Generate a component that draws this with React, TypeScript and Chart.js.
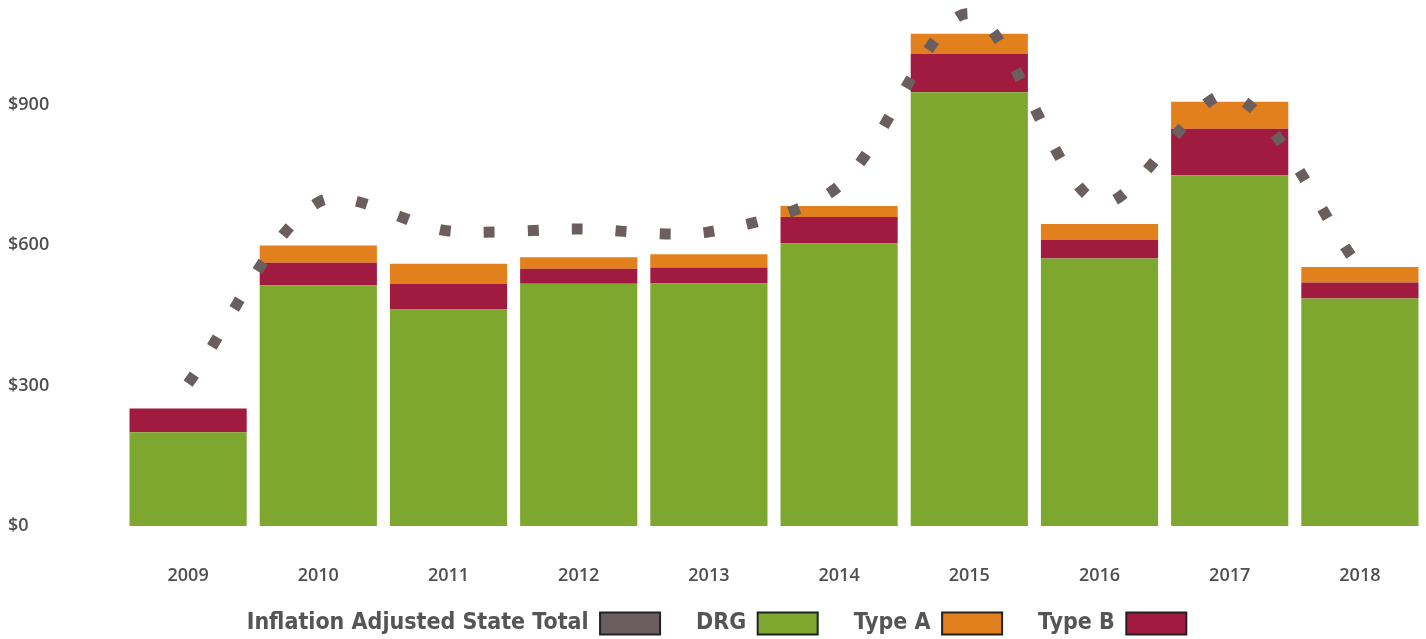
import React, { useEffect, useRef } from 'react';
import { Chart, registerables } from 'chart.js';
Chart.register(...registerables);

const years = ['2009', '2010', '2011', '2012', '2013', '2014', '2015', '2016', '2017', '2018'];
const drg = [200, 514, 462, 517, 518, 603, 926, 571, 749, 486];
const typeB = [51, 48, 55, 32, 34, 57, 82, 40, 99, 34];
const typeA = [0, 37, 43, 25, 28, 23, 43, 34, 58, 33];
const stateTotal = [304, 691, 630, 634, 628, 726, 1094, 690, 921, 550];
const yTicks = [0, 300, 600, 900];

const legendRank: Record<string, number> = {
  'Type B': 0,
  'Type A': 1,
  'DRG': 2,
  'Inflation Adjusted State Total': 3,
};

const legendHeightPlugin = {
  id: 'legendHeight',
  beforeInit(chart: any) {
    const lg = chart.legend;
    if (!lg) return;
    const orig = lg.fit.bind(lg);
    lg.fit = function () {
      orig();
      this.height = 52;
    };
  },
  afterLayout(chart: any) {
    const lg = chart.legend;
    if (!lg) return;
    lg.top -= 11;
  },
};

export default function App() {
  const ref = useRef<HTMLCanvasElement | null>(null);
  useEffect(() => {
    if (!ref.current) return;
    const tickFont = { family: "'Open Sans', sans-serif", size: 18, weight: 600 as any };
    const chart = new Chart(ref.current, {
      type: 'bar',
      data: {
        labels: years,
        datasets: [
          {
            type: 'line',
            label: 'Inflation Adjusted State Total',
            data: stateTotal,
            borderColor: '#6B5E5E',
            backgroundColor: '#6B5E5E',
            borderWidth: 11,
            borderDash: [11, 33],
            borderCapStyle: 'butt',
            tension: 0.3,
            pointRadius: 0,
            fill: false,
            order: 0,
            stack: 'total',
            clip: false,
          } as any,
          {
            label: 'DRG',
            data: drg,
            backgroundColor: '#7DA72F',
            order: 1,
            stack: 'bars',
          },
          {
            label: 'Type B',
            data: typeB,
            backgroundColor: '#A01B3F',
            order: 1,
            stack: 'bars',
          },
          {
            label: 'Type A',
            data: typeA,
            backgroundColor: '#E1801C',
            order: 1,
            stack: 'bars',
          },
        ],
      },
      options: {
        animation: false,
        responsive: true,
        maintainAspectRatio: false,
        layout: { padding: { left: 8, right: 1, top: 9, bottom: 0 } },
        datasets: { bar: { barPercentage: 0.9, categoryPercentage: 1 } },
        scales: {
          x: {
            stacked: true,
            grid: { display: false, drawTicks: false },
            border: { display: false },
            ticks: { color: '#4f4f4f', font: tickFont, padding: 39 },
            afterFit: (scale: any) => {
              scale.height = 61;
            },
          },
          y: {
            stacked: true,
            min: 0,
            max: 1100,
            grid: { display: false, drawTicks: false },
            border: { display: false },
            ticks: {
              color: '#4f4f4f',
              font: tickFont,
              crossAlign: 'far',
              padding: 0,
              callback: (v: any) => '$' + v,
            },
            afterBuildTicks: (scale: any) => {
              scale.ticks = yTicks.map((v) => ({ value: v }));
            },
            afterFit: (scale: any) => {
              scale.width = 115;
            },
          },
        },
        plugins: {
          tooltip: { enabled: false },
          legend: {
            position: 'bottom',
            rtl: true,
            labels: {
              boxWidth: 60,
              boxHeight: 22,
              padding: 36,
              color: '#555',
              font: { family: "'Liberation Sans Narrow', 'DejaVu Sans Condensed', sans-serif", size: 23, weight: 'bold' },
              sort: (a: any, b: any) => legendRank[a.text] - legendRank[b.text],
              generateLabels: (chart: any) => {
                const items = Chart.defaults.plugins.legend.labels.generateLabels(chart);
                return items.map((it: any) => {
                  const ds = chart.data.datasets[it.datasetIndex];
                  return {
                    ...it,
                    fillStyle: ds.type === 'line' ? ds.borderColor : ds.backgroundColor,
                    strokeStyle: '#222',
                    lineWidth: 2,
                    lineDash: [],
                    lineDashOffset: 0,
                    pointStyle: undefined,
                    fontColor: '#555',
                  };
                });
              },
            },
          },
        },
      },
      plugins: [legendHeightPlugin],
    } as any);
    return () => chart.destroy();
  }, []);
  return (
    <div style={{ position: 'fixed', left: 0, top: 0, width: 1426, height: 639, background: '#fff' }}>
      <canvas ref={ref} />
    </div>
  );
}
